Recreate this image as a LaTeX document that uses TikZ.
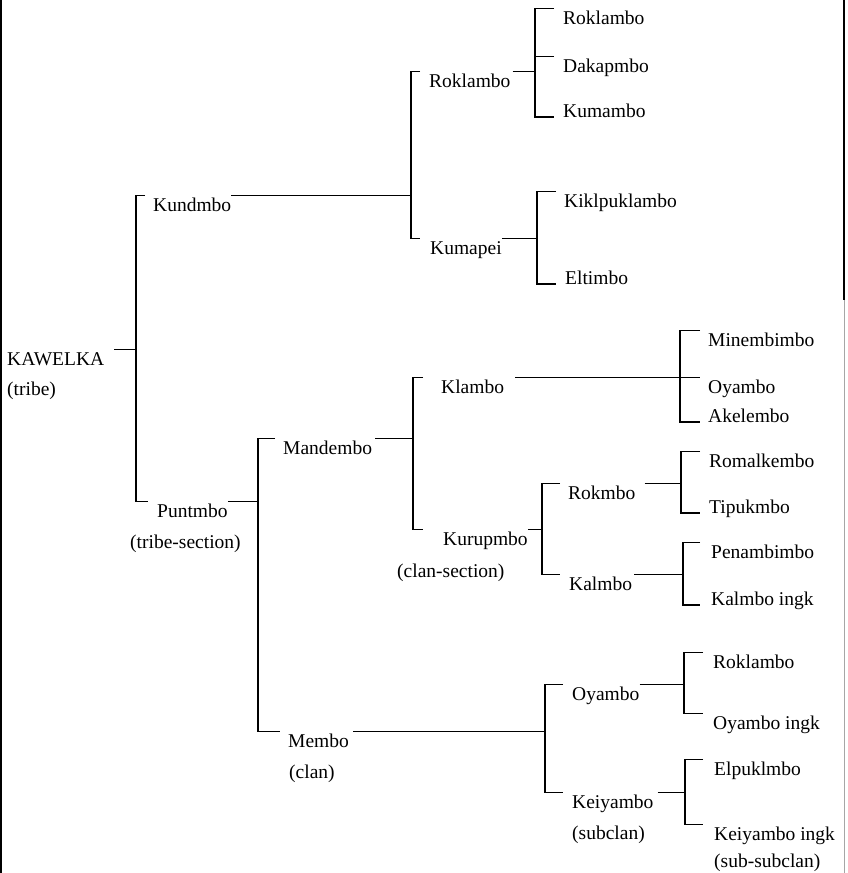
\documentclass[tikz,border=0pt]{standalone}
\usepackage{fontspec}
\setmainfont{Liberation Serif}
\usetikzlibrary{calc}

\begin{document}
\begin{tikzpicture}[
    x=1pt, y=-1pt,
    lbl/.style={anchor=base west, inner xsep=0pt, inner ysep=2pt,
                text height=13.5pt, text depth=4pt, font=\fontsize{19.5}{22}\selectfont},
    link/.style={line width=1.3pt},
    rim/.style={line width=1.6pt},
]
\useasboundingbox (0,0) rectangle (847,873);

% page edges
\draw[rim] (1,0) -- (1,873);
\draw[rim] (844,0) -- (844,300);
\draw[rim, black!35, line width=1pt] (844,300) -- (844,873);

% bracket columns
\coordinate (bKaw) at (136,0);
\coordinate (bKun) at (411,0);
\coordinate (bRok) at (535,0);
\coordinate (bKum) at (537,0);
\coordinate (bPun) at (258,0);
\coordinate (bMan) at (413,0);
\coordinate (bKla) at (680,0);
\coordinate (bKur) at (542,0);
\coordinate (bRkm) at (681,0);
\coordinate (bKal) at (683,0);
\coordinate (bMem) at (545,0);
\coordinate (bOya) at (684,0);
\coordinate (bKei) at (685,0);

% Names
\node[lbl] (kaw) at (7,365) {KAWELKA};
\node[lbl] (kawN) at (7,395) {(tribe)};
\node[lbl] (kund) at (153,211) {Kundmbo};
\node[lbl] (punt) at (157,517) {Puntmbo};
\node[lbl] (puntN) at (130,548) {(tribe-section)};
\node[lbl] (roklA) at (429,87) {Roklambo};
\node[lbl] (kuma) at (430,254) {Kumapei};
\node[lbl] (roklB) at (563,24) {Roklambo};
\node[lbl] (dakap) at (563,72) {Dakapmbo};
\node[lbl] (kumam) at (563,117) {Kumambo};
\node[lbl] (kikl) at (564,207) {Kiklpuklambo};
\node[lbl] (eltim) at (565,284) {Eltimbo};
\node[lbl] (mand) at (283,454) {Mandembo};
\node[lbl] (memb) at (288,747) {Membo};
\node[lbl] (membN) at (289,778) {(clan)};
\node[lbl] (klam) at (441,393) {Klambo};
\node[lbl] (kurup) at (443,545) {Kurupmbo};
\node[lbl] (kurupN) at (397,577) {(clan-section)};
\node[lbl] (minem) at (708,346) {Minembimbo};
\node[lbl] (oyamA) at (708,393) {Oyambo};
\node[lbl] (akel) at (708,422) {Akelembo};
\node[lbl] (rokm) at (568,499) {Rokmbo};
\node[lbl] (kalm) at (569,590) {Kalmbo};
\node[lbl] (romal) at (709,467) {Romalkembo};
\node[lbl] (tipuk) at (709,513) {Tipukmbo};
\node[lbl] (penam) at (711,558) {Penambimbo};
\node[lbl] (kalmI) at (711,605) {Kalmbo ingk};
\node[lbl] (oyam) at (572,700) {Oyambo};
\node[lbl] (keiy) at (572,808) {Keiyambo};
\node[lbl] (keiyN) at (572,839) {(subclan)};
\node[lbl] (roklC) at (713,668) {Roklambo};
\node[lbl] (oyamI) at (713,729) {Oyambo ingk};
\node[lbl] (elpuk) at (714,775) {Elpuklmbo};
\node[lbl] (keiyI) at (714,840) {Keiyambo ingk};
\node[lbl] (keiyNN) at (714,867) {(sub-subclan)};

% tribe
\draw[link] ([xshift=10pt]kaw.north east) -- (kaw.north east -| bKaw);
\draw[link] ([xshift=-8pt]kund.north west) -- (kund.north west -| bKaw) |- ([xshift=-9pt]punt.north west);

% Kundmbo
\draw[link] (kund.north east) -- (kund.north east -| bKun);
\draw[link] ([xshift=-9pt]roklA.north west) -- (roklA.north west -| bKun) |- ([xshift=-10pt]kuma.north west);
\draw[link] ([xshift=2pt]roklA.north east) -- (roklA.north east -| bRok);
\draw[link] ([xshift=-9pt]roklB.north west) -- (roklB.north west -| bRok) |- ([xshift=-9pt]kumam.base west);
\draw[link] ([xshift=-9pt]dakap.north west) -- (dakap.north west -| bRok);
\draw[link] (kuma.north east) -- (kuma.north east -| bKum);
\draw[link] ([xshift=-8pt]kikl.north west) -- (kikl.north west -| bKum) |- ([xshift=-9pt]eltim.base west);

% Puntmbo
\draw[link] (punt.north east) -- (punt.north east -| bPun);
\draw[link] ([xshift=-8pt]mand.north west) -- (mand.north west -| bPun) |- ([xshift=-8pt]memb.north west);

% Mandembo
\draw[link] ([xshift=3pt]mand.north east) -- (mand.north east -| bMan);
\draw[link] ([xshift=-18pt]klam.north west) -- (klam.north west -| bMan) |- ([xshift=-20pt]kurup.north west);
\draw[link] ([xshift=11pt]klam.north east) -- ([xshift=-8pt]oyamA.north west);
\draw[link] ([xshift=-8pt]minem.north west) -- (minem.north west -| bKla) |- ([xshift=-8pt]akel.base west);
\draw[link] (kurup.north east) -- (kurup.north east -| bKur);
\draw[link] ([xshift=-8pt]rokm.north west) -- (rokm.north west -| bKur) |- ([xshift=-9pt]kalm.north west);
\draw[link] ([xshift=9pt]rokm.north east) -- (rokm.north east -| bRkm);
\draw[link] ([xshift=-9pt]romal.north west) -- (romal.north west -| bRkm) |- ([xshift=-9pt]tipuk.base west);
\draw[link] ([xshift=2pt]kalm.north east) -- (kalm.north east -| bKal);
\draw[link] ([xshift=-11pt]penam.north west) -- (penam.north west -| bKal) |- ([xshift=-11pt]kalmI.base west);

% Membo
\draw[link] ([xshift=4pt]memb.north east) -- (memb.north east -| bMem);
\draw[link] ([xshift=-9pt]oyam.north west) -- (oyam.north west -| bMem) |- ([xshift=-9pt]keiy.north west);
\draw[link] (oyam.north east) -- (oyam.north east -| bOya);
\draw[link] ([xshift=-10pt]roklC.north west) -- (roklC.north west -| bOya) |- ([xshift=-10pt]oyamI.north west);
\draw[link] ([xshift=4pt]keiy.north east) -- (keiy.north east -| bKei);
\draw[link] ([xshift=-11pt]elpuk.north west) -- (elpuk.north west -| bKei) |- ([xshift=-11pt]keiyI.north west);

\end{tikzpicture}
\end{document}
